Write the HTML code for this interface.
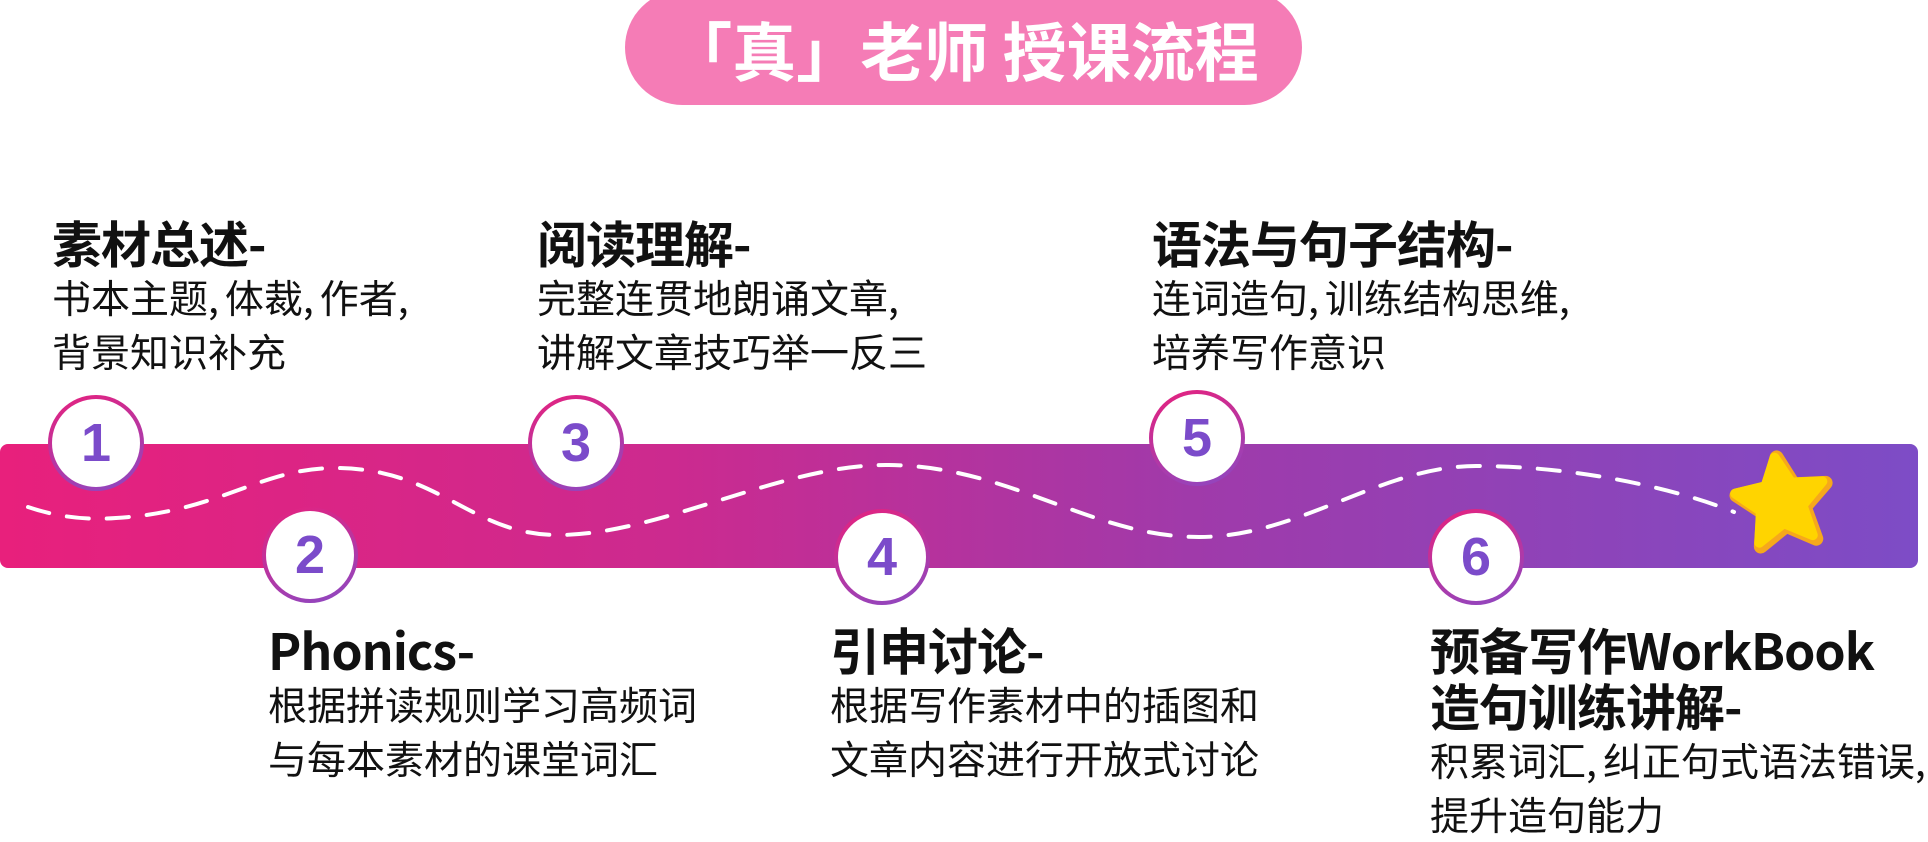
<!DOCTYPE html>
<html><head><meta charset="utf-8"><style>
body{margin:0;width:1928px;height:836px;background:#fff;position:relative;overflow:hidden;font-family:"Liberation Sans","Noto Sans CJK SC",sans-serif;}
.pill{position:absolute;left:625px;top:-10px;width:677px;height:115px;border-radius:58px;background:#f57cb6;}
.title{position:absolute;left:625px;width:677px;top:14px;text-align:center;color:#fff;font-size:64px;font-weight:700;line-height:70px;white-space:nowrap;font-family:"Noto Sans CJK SC",sans-serif;}
.band{position:absolute;left:0;top:444px;width:1918px;height:124px;border-radius:8px;background:linear-gradient(90deg,#e8207c,#cc2a8f 35%,#a03aaa 62%,#7d4cc6);}
.c{position:absolute;width:88px;height:88px;border-radius:50%;background:#fff;border:4px solid transparent;background:linear-gradient(#fff,#fff) padding-box,linear-gradient(160deg,#e8207c,#8a49c4) border-box;color:#7b4bca;font-size:54px;font-weight:700;text-align:center;line-height:88px;font-family:"Liberation Sans",sans-serif;}
.t{position:absolute;white-space:nowrap;color:#111;}
.h{font-size:50px;font-weight:700;line-height:56px;font-family:"Noto Sans CJK SC",sans-serif;letter-spacing:-1px;}
.b{font-size:39px;line-height:54px;font-family:"Noto Sans CJK SC",sans-serif;}
.b i{font-style:normal;margin-right:6px;}
</style></head><body>
<div class="pill"></div>
<div class="title">「真」老师 授课流程</div>
<div class="band"></div>
<svg style="position:absolute;left:0;top:0" width="1928" height="836">
<path d="M28 507 C60 518 90 520 116 518 C220 512 260 468 335 468 C440 468 470 535 558 535 C660 535 780 465 886 465 C1010 465 1090 537 1199 537 C1300 537 1380 466 1476 466 C1580 466 1680 490 1734 512" fill="none" stroke="#fff" stroke-width="4" stroke-dasharray="22 18" stroke-linecap="round"/>
<g transform="translate(1783,503) rotate(-8)">
<polygon points="0,-46 13,-17 45,-14 21,7 28,40 0,23 -28,40 -21,7 -45,-14 -13,-17" fill="#f6a81c" stroke="#f6a81c" stroke-width="14" stroke-linejoin="round"/>
<polygon points="-2,-46 11,-19 42,-16 19,5 25,36 -2,20 -29,36 -23,5 -46,-16 -15,-19" fill="#ffd400" stroke="#ffd400" stroke-width="10" stroke-linejoin="round"/>
</g>
</svg>
<div class="c" style="left:48px;top:395px">1</div>
<div class="c" style="left:262px;top:507px">2</div>
<div class="c" style="left:528px;top:395px">3</div>
<div class="c" style="left:834px;top:509px">4</div>
<div class="c" style="left:1149px;top:390px">5</div>
<div class="c" style="left:1428px;top:509px">6</div>

<div class="t" style="left:52px;top:214px"><div class="h">素材总述-</div><div class="b">书本主题<i>,</i>体裁<i>,</i>作者<i>,</i><br>背景知识补充</div></div>
<div class="t" style="left:537px;top:214px"><div class="h">阅读理解-</div><div class="b">完整连贯地朗诵文章<i>,</i><br>讲解文章技巧举一反三</div></div>
<div class="t" style="left:1152px;top:214px"><div class="h">语法与句子结构-</div><div class="b">连词造句<i>,</i>训练结构思维<i>,</i><br>培养写作意识</div></div>
<div class="t" style="left:268px;top:621px"><div class="h">Phonics-</div><div class="b">根据拼读规则学习高频词<br>与每本素材的课堂词汇</div></div>
<div class="t" style="left:830px;top:621px"><div class="h">引申讨论-</div><div class="b">根据写作素材中的插图和<br>文章内容进行开放式讨论</div></div>
<div class="t" style="left:1430px;top:621px"><div class="h">预备写作WorkBook<br>造句训练讲解-</div><div class="b">积累词汇<i>,</i>纠正句式语法错误<i>,</i><br>提升造句能力</div></div>
</body></html>
